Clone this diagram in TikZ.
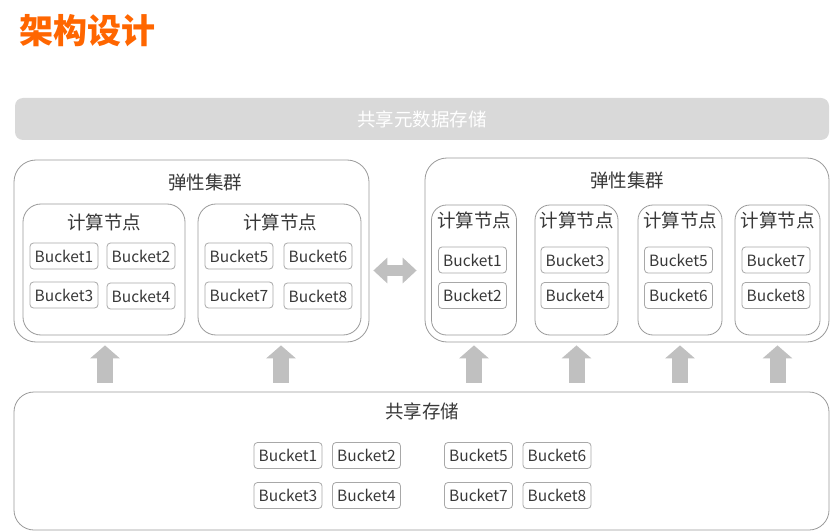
\documentclass[tikz,border=0pt]{standalone}
\usepackage{fontspec}
\setmainfont{Noto Sans CJK SC}
\usetikzlibrary{arrows.meta}
\definecolor{orng}{HTML}{FF6600}
\definecolor{bordergray}{HTML}{9A9A9A}
\definecolor{bktgray}{HTML}{A8A8A8}
\definecolor{txtgray}{HTML}{383838}
\definecolor{bargray}{HTML}{D9D9D9}
\definecolor{arrgray}{HTML}{C0C0C0}
\begin{document}
\begin{tikzpicture}[x=1pt,y=-1pt,
  bucket/.style={draw=bktgray, line width=0.8pt, rounded corners=3.5pt, minimum width=68pt, minimum height=26pt, inner sep=0pt, font=\fontsize{15.5}{15.5}\selectfont, text=txtgray},
  cluster/.style={draw=bordergray, line width=0.8pt, rounded corners=22pt, inner sep=0pt},
  cnode/.style={draw=bordergray, line width=0.8pt, rounded corners=18pt, inner sep=0pt},
  lbl/.style={font=\fontsize{18.5}{18.5}\selectfont, text=txtgray, inner sep=0pt},
  bigarrow/.style={draw=arrgray, line width=16pt, -{Triangle[width=29pt,length=13pt]}},
  dblarrow/.style={draw=arrgray, line width=11pt, {Triangle[width=25pt,length=14pt]}-{Triangle[width=25pt,length=14pt]}}
]
\useasboundingbox (0,0) rectangle (830,532);
\fill[white] (0,0) rectangle (830,532);

% title
\node[anchor=west, inner sep=0pt, text=orng, font=\fontsize{34}{34}\selectfont\bfseries] (title) at (19,31) {架构设计};

% metadata bar
\node[fill=bargray, rounded corners=8pt, minimum width=814pt, minimum height=42pt, inner sep=0pt, text=white, font=\fontsize{18.5}{18.5}\selectfont] (meta) at (422,119) {共享元数据存储};

% left cluster
\node[cluster, minimum width=355pt, minimum height=182pt] (lcl) at (191.5,251) {};
\node[lbl] (lcllbl) at (205,182) {弹性集群};
\node[cnode, minimum width=162pt, minimum height=131pt] (ln1) at (104,269.5) {};
\node[lbl] (ln1lbl) at (104,222) {计算节点};
\node[cnode, minimum width=163pt, minimum height=131pt] (ln2) at (279.5,269.5) {};
\node[lbl] (ln2lbl) at (280,222) {计算节点};
\node[bucket] (lb1) at (64,256) {Bucket1};
\node[bucket] (lb2) at (141,256) {Bucket2};
\node[bucket] (lb3) at (64,295) {Bucket3};
\node[bucket] (lb4) at (141,296) {Bucket4};
\node[bucket] (lb5) at (239,256) {Bucket5};
\node[bucket] (lb6) at (318,256) {Bucket6};
\node[bucket] (lb7) at (239,295) {Bucket7};
\node[bucket] (lb8) at (318,296) {Bucket8};

% right cluster
\node[cluster, minimum width=404pt, minimum height=184pt] (rcl) at (627,250) {};
\node[lbl] (rcllbl) at (627,180) {弹性集群};
\node[cnode, rounded corners=15pt, minimum width=85pt, minimum height=130pt] (rn1) at (474,270) {};
\node[cnode, rounded corners=15pt, minimum width=83pt, minimum height=130pt] (rn2) at (576.5,270) {};
\node[cnode, rounded corners=15pt, minimum width=84pt, minimum height=130pt] (rn3) at (680,270) {};
\node[cnode, rounded corners=15pt, minimum width=85pt, minimum height=130pt] (rn4) at (777.5,270) {};
\node[lbl] (rn1lbl) at (474,220) {计算节点};
\node[lbl] (rn2lbl) at (576.5,220) {计算节点};
\node[lbl] (rn3lbl) at (680,220) {计算节点};
\node[lbl] (rn4lbl) at (777.5,220) {计算节点};
\node[bucket] (rb1) at (472.5,260) {Bucket1};
\node[bucket] (rb2) at (472.5,295.5) {Bucket2};
\node[bucket] (rb3) at (575,260) {Bucket3};
\node[bucket] (rb4) at (575,295.5) {Bucket4};
\node[bucket] (rb5) at (678.5,260) {Bucket5};
\node[bucket] (rb6) at (678.5,295.5) {Bucket6};
\node[bucket] (rb7) at (776,260) {Bucket7};
\node[bucket] (rb8) at (776,295.5) {Bucket8};

% shared storage
\node[cluster, rounded corners=20pt, minimum width=815pt, minimum height=138pt] (st) at (421.5,461) {};
\node[lbl] (stlbl) at (422,411) {共享存储};
\node[bucket] (sb1) at (288,455.5) {Bucket1};
\node[bucket] (sb2) at (366.5,455.5) {Bucket2};
\node[bucket] (sb3) at (288,495.5) {Bucket3};
\node[bucket] (sb4) at (366.5,495.5) {Bucket4};
\node[bucket] (sb5) at (478.5,455.5) {Bucket5};
\node[bucket] (sb6) at (557,455.5) {Bucket6};
\node[bucket] (sb7) at (478.5,495.5) {Bucket7};
\node[bucket] (sb8) at (557,495.5) {Bucket8};

% arrows
\coordinate (a1) at (105,0);
\coordinate (a2) at (281,0);
\draw[bigarrow, shorten <=9pt, shorten >=3pt] (st.north -| a1) -- (lcl.south -| a1);
\draw[bigarrow, shorten <=9pt, shorten >=3pt] (st.north -| a2) -- (lcl.south -| a2);
\draw[bigarrow, shorten <=9pt, shorten >=3pt] (st.north -| rn1) -- (rcl.south -| rn1);
\draw[bigarrow, shorten <=9pt, shorten >=3pt] (st.north -| rn2) -- (rcl.south -| rn2);
\draw[bigarrow, shorten <=9pt, shorten >=3pt] (st.north -| rn3) -- (rcl.south -| rn3);
\draw[bigarrow, shorten <=9pt, shorten >=3pt] (st.north -| rn4) -- (rcl.south -| rn4);

\coordinate (da) at (0,270.5);
\draw[dblarrow, shorten <=4pt, shorten >=8pt] (lcl.east |- da) -- (rcl.west |- da);
\end{tikzpicture}
\end{document}
